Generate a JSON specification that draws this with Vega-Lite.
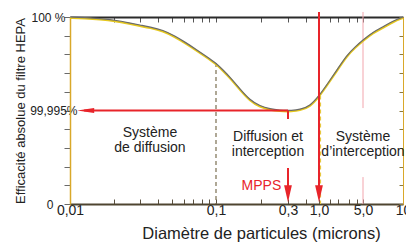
{
  "$schema": "https://vega.github.io/schema/vega-lite/v6.json",
  "width": 333,
  "height": 187,
  "autosize": {"type": "none"},
  "padding": {"left": 70, "top": 17, "right": 3, "bottom": 38},
  "background": "white",
  "config": {"view": {"stroke": null}, "font": "Liberation Sans"},
  "layer": [
    {
      "data": {"values": [{"x": 0.1, "y": 7.54, "y2": 0}]},
      "mark": {"type": "rule", "color": "#7a6e50", "strokeWidth": 1.2, "strokeDash": [4, 3]},
      "encoding": {
        "x": {"field": "x", "type": "quantitative", "scale": {"type": "log", "domain": [0.01, 0.1, 0.3, 1, 5, 10], "range": [0, 146, 218, 249, 293, 333], "nice": false}, "axis": null},
        "y": {"field": "y", "type": "quantitative", "scale": {"domain": [0, 10], "nice": false, "zero": false}, "axis": null},
        "y2": {"field": "y2"}
      }
    },
    {
      "data": {"values": [{"x": 1, "y": 5.8, "y2": 0}]},
      "mark": {"type": "rule", "color": "#e8c840", "strokeWidth": 1.2, "strokeDash": [4, 3], "xOffset": 1.5},
      "encoding": {
        "x": {"field": "x", "type": "quantitative", "axis": null},
        "y": {"field": "y", "type": "quantitative", "axis": null},
        "y2": {"field": "y2"}
      }
    },
    {
      "data": {"values": [{"x": 5, "y": 10.27, "y2": 5.13}, {"x": 5, "y": 1.44, "y2": 0}]},
      "mark": {"type": "rule", "color": "#f2a5ad", "strokeWidth": 1},
      "encoding": {
        "x": {"field": "x", "type": "quantitative", "axis": null},
        "y": {"field": "y", "type": "quantitative", "axis": null},
        "y2": {"field": "y2"}
      }
    },
    {
      "data": {"values": [
        {"d": 0.01, "e": 10}, {"d": 0.01267, "e": 9.97}, {"d": 0.01605, "e": 9.92}, {"d": 0.02033, "e": 9.84},
        {"d": 0.02576, "e": 9.68}, {"d": 0.03015, "e": 9.57}, {"d": 0.0353, "e": 9.47}, {"d": 0.0434, "e": 9.3},
        {"d": 0.0524, "e": 8.98}, {"d": 0.0613, "e": 8.66}, {"d": 0.0741, "e": 8.24}, {"d": 0.0854, "e": 7.91},
        {"d": 0.1, "e": 7.54}, {"d": 0.1113, "e": 7.17}, {"d": 0.1238, "e": 6.79}, {"d": 0.1442, "e": 6.15},
        {"d": 0.1679, "e": 5.56}, {"d": 0.1956, "e": 5.24}, {"d": 0.228, "e": 5.08}, {"d": 0.2655, "e": 5.02},
        {"d": 0.3, "e": 5.0}, {"d": 0.324, "e": 5.0}, {"d": 0.478, "e": 5.05}, {"d": 0.705, "e": 5.24},
        {"d": 1.0, "e": 5.78}, {"d": 1.39, "e": 6.47}, {"d": 1.93, "e": 7.17}, {"d": 2.78, "e": 7.97},
        {"d": 3.73, "e": 8.4}, {"d": 5, "e": 8.77}, {"d": 5.95, "e": 9.2}, {"d": 7.07, "e": 9.47},
        {"d": 8.41, "e": 9.79}, {"d": 10, "e": 10}
      ]},
      "layer": [
        {
          "mark": {"type": "line", "color": "#e6c81e", "strokeWidth": 2, "yOffset": 1, "interpolate": "basis"},
          "encoding": {
            "x": {"field": "d", "type": "quantitative", "axis": {
              "orient": "bottom",
              "values": [0.01, 0.02, 0.03, 0.04, 0.05, 0.06, 0.07, 0.08, 0.09, 0.1, 0.2, 0.3, 0.6, 1, 1.5, 2, 3, 4, 5, 10],
              "labelExpr": "datum.value==0.01?'0,01':datum.value==0.1?'0,1':datum.value==0.3?'0,3':datum.value==1?'1,0':datum.value==5?'5,0':datum.value==10?'10':''",
              "tickSize": -5, "tickColor": "#5a5040", "tickWidth": 1,
              "domainColor": "#4e4530", "domainWidth": 2,
              "labelFontSize": 14, "labelColor": "#222", "labelPadding": 4, "labelFlush": false, "labelOverlap": false,
              "grid": false,
              "title": "Diamètre de particules (microns)", "titleFontSize": 16.5, "titleFontWeight": "normal", "titleColor": "#222",
              "titleX": 191, "titlePadding": 8
            }},
            "y": {"field": "e", "type": "quantitative", "axis": {
              "orient": "left",
              "values": [0, 1, 2, 3, 4, 5, 6, 7, 8, 9, 10],
              "labelExpr": "datum.value==0?'0':datum.value==5?'99,995%':datum.value==10?'100 %':''",
              "domainColor": "#d9a82a", "domainWidth": 1.5,
              "tickColor": "#6a6a6a", "tickSize": 6,
              "labelFontSize": 12, "labelColor": "#222", "labelFlush": false, "labelOverlap": false,
              "labelPadding": {"condition": [{"test": "datum.value==5", "value": -13}, {"test": "datum.value==0", "value": 11}], "value": -1},
              "grid": false,
              "title": "Efficacité absolue du filtre HEPA", "titleFontSize": 13, "titleFontWeight": "normal", "titleColor": "#222",
              "titlePadding": 2
            }}
          }
        },
        {
          "mark": {"type": "line", "color": "#6a6a6a", "strokeWidth": 1.2, "interpolate": "basis"},
          "encoding": {
            "x": {"field": "d", "type": "quantitative", "axis": {
              "orient": "top",
              "values": [0.01, 0.02, 0.03, 0.04, 0.05, 0.06, 0.07, 0.08, 0.09, 0.1, 0.2, 0.3, 0.6, 1, 1.5, 2, 3, 4, 5, 10],
              "labels": false, "tickSize": -5, "tickColor": "#555", "domainColor": "#2b2b2b", "domainWidth": 2, "grid": false, "title": null
            }},
            "y": {"field": "e", "type": "quantitative", "axis": {
              "orient": "right",
              "values": [0, 1, 2, 3, 4, 5, 6, 7, 8, 9, 10],
              "labels": false, "tickSize": -4, "tickColor": "#8a7a40", "domainColor": "#d9a82a", "grid": false, "title": null
            }}
          }
        }
      ]
    },
    {
      "data": {"values": [
        {"x": 1, "x2": 1, "y": 10.27, "y2": 0.6},
        {"x": 0.3, "x2": 0.3, "y": 5, "y2": 4.55},
        {"x": 0.3, "x2": 0.3, "y": 1.93, "y2": 0.6},
        {"x": 0.0125, "x2": 0.3, "y": 5, "y2": 5}
      ]},
      "mark": {"type": "rule", "color": "#e8242a", "strokeWidth": 2},
      "encoding": {
        "x": {"field": "x", "type": "quantitative", "axis": null},
        "x2": {"field": "x2"},
        "y": {"field": "y", "type": "quantitative", "axis": null},
        "y2": {"field": "y2"}
      }
    },
    {
      "data": {"values": [{"x": 0.3, "y": 0.1}, {"x": 1, "y": 0.1}]},
      "mark": {"type": "point", "shape": "M0,0L-0.55,-2.4L0.55,-2.4Z", "size": 200, "filled": true, "color": "#e8242a", "opacity": 1, "strokeWidth": 0},
      "encoding": {
        "x": {"field": "x", "type": "quantitative", "axis": null},
        "y": {"field": "y", "type": "quantitative", "axis": null}
      }
    },
    {
      "data": {"values": [{"x": 0.0112, "y": 5}]},
      "mark": {"type": "point", "shape": "M0,0L2.4,-0.36L2.4,0.36Z", "size": 200, "filled": true, "color": "#e8242a", "opacity": 1, "strokeWidth": 0},
      "encoding": {
        "x": {"field": "x", "type": "quantitative", "axis": null},
        "y": {"field": "y", "type": "quantitative", "axis": null}
      }
    },
    {
      "data": {"values": [
        {"x": 0.0353, "y": 3.8, "t": "Système\nde diffusion"},
        {"x": 0.221, "y": 3.58, "t": "Diffusion et\ninterception"},
        {"x": 5.0, "y": 3.58, "t": "Système\nd’interception"}
      ]},
      "mark": {"type": "text", "fontSize": 14, "color": "#222", "align": "center", "baseline": "middle", "lineBreak": "\n", "lineHeight": 15},
      "encoding": {
        "x": {"field": "x", "type": "quantitative", "axis": null},
        "y": {"field": "y", "type": "quantitative", "axis": null},
        "text": {"field": "t"}
      }
    },
    {
      "data": {"values": [{"x": 0.2, "y": 0.96, "t": "MPPS"}]},
      "mark": {"type": "text", "fontSize": 14, "color": "#e8242a", "align": "center", "baseline": "middle"},
      "encoding": {
        "x": {"field": "x", "type": "quantitative", "axis": null},
        "y": {"field": "y", "type": "quantitative", "axis": null},
        "text": {"field": "t"}
      }
    }
  ],
  "resolve": {"axis": {"x": "independent", "y": "independent"}}
}
